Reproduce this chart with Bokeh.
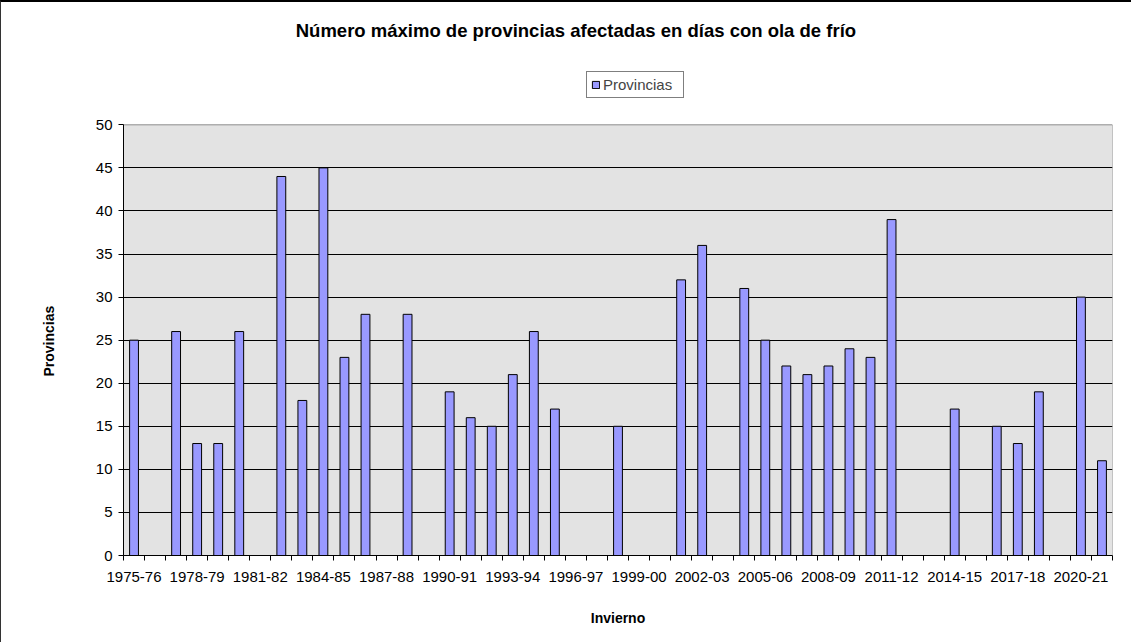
from bokeh.plotting import figure
from bokeh.models import (ColumnDataSource, FixedTicker, Legend, LegendItem,
                          Range1d, Label, Title)
from bokeh.embed import file_html
from bokeh.resources import INLINE

# ---------------- data ----------------
seasons = [
    "1975-76", "1976-77", "1977-78", "1978-79", "1979-80", "1980-81",
    "1981-82", "1982-83", "1983-84", "1984-85", "1985-86", "1986-87",
    "1987-88", "1988-89", "1989-90", "1990-91", "1991-92", "1992-93",
    "1993-94", "1994-95", "1995-96", "1996-97", "1997-98", "1998-99",
    "1999-00", "2000-01", "2001-02", "2002-03", "2003-04", "2004-05",
    "2005-06", "2006-07", "2007-08", "2008-09", "2009-10", "2010-11",
    "2011-12", "2012-13", "2013-14", "2014-15", "2015-16", "2016-17",
    "2017-18", "2018-19", "2019-20", "2020-21", "2021-22",
]
provincias = [
    25, None, 26, 13, 13, 26,
    None, 44, 18, 45, 23, 28,
    None, 28, None, 19, 16, 15,
    21, 26, 17, None, None, 15,
    None, None, 32, 36, None, 31,
    25, 22, 21, 22, 24, 23,
    39, None, None, 17, None, 15,
    13, 19, None, 30, 11,
]
labelled_seasons = seasons[::3]
y_ticks = [0, 5, 10, 15, 20, 25, 30, 35, 40, 45, 50]

title_text = "Número máximo de provincias afectadas en días con ola de frío"
series_name = "Provincias"
x_title = "Invierno"
y_title = "Provincias"

# ---------------- figure ----------------
FONT = "Liberation Sans"
W, H = 1131, 642
Y_MAX = 50
Y_VIEW = 64.2          # frame extends above the plot area to hold title/legend
PX_PER_UNIT = 553 / Y_VIEW
x_rng = Range1d(-0.5, len(seasons) - 0.5)
p = figure(width=W, height=H, output_backend="svg", toolbar_location=None,
           x_range=x_rng, y_range=Range1d(0, Y_VIEW),
           min_border_left=122, min_border_right=20, min_border_top=0,
           min_border_bottom=89)
p.styles = {"border-top": "2px solid black", "border-left": "1px solid #333333"}

p.background_fill_color = "white"
p.border_fill_color = "white"
p.outline_line_color = None

# grey plot area
p.quad(left=x_rng.start, right=x_rng.end, bottom=0, top=Y_MAX,
       fill_color="#E3E3E3", line_color="#8C8C8C", line_width=1, level="image")

xs = [i for i, v in enumerate(provincias) if v is not None]
tops = [v for v in provincias if v is not None]
src = ColumnDataSource(dict(x=xs, top=tops))
r = p.vbar(x="x", top="top", bottom=0, width=0.42, source=src,
           fill_color="#9999FF", line_color="black", line_width=1)

# grid
p.xgrid.grid_line_color = None
p.ygrid.ticker = FixedTicker(ticks=y_ticks[1:-1])
p.ygrid.grid_line_color = "black"
p.ygrid.grid_line_width = 1

# x axis
xa = p.xaxis[0]
xa.ticker = FixedTicker(ticks=list(range(0, len(seasons), 3)),
                        minor_ticks=[i - 0.5 for i in range(len(seasons) + 1)])
xa.major_label_overrides = {i * 3: s for i, s in enumerate(labelled_seasons)}
xa.major_tick_out = 0
xa.major_tick_in = 0
xa.minor_tick_out = 5
xa.minor_tick_in = 0
xa.minor_tick_line_color = "black"
xa.axis_line_color = "black"
xa.major_label_text_font = FONT
xa.major_label_text_font_size = "15px"
xa.major_label_text_color = "black"
xa.major_label_standoff = 11
xa.axis_label = x_title
xa.axis_label_text_font = FONT
xa.axis_label_text_font_style = "bold"
xa.axis_label_text_font_size = "14px"
xa.axis_label_text_color = "black"
xa.axis_label_standoff = 25

# y axis
ya = p.yaxis[0]
ya.ticker = FixedTicker(ticks=y_ticks)
ya.bounds = (0, Y_MAX)
ya.major_tick_out = 5
ya.major_tick_in = 0
ya.minor_tick_line_color = None
ya.axis_line_color = "black"
ya.major_tick_line_color = "black"
ya.major_label_text_font = FONT
ya.major_label_text_font_size = "15px"
ya.major_label_text_color = "black"
ya.major_label_standoff = 6

# y axis title, centred on the grey plot area
p.add_layout(Title(text=y_title, align="left", offset=179, standoff=72,
                   text_font=FONT, text_font_style="bold",
                   text_font_size="14px", text_color="black"), "left")

# legend (inside the extended frame, above the grey area)
legend = Legend(items=[LegendItem(label=series_name, renderers=[r])],
                location=(463, 457), orientation="vertical")
legend.label_text_font = FONT
legend.label_text_font_size = "15px"
legend.label_standoff = 3
legend.label_width = 76
legend.glyph_width = 9
legend.glyph_height = 9
legend.label_height = 13
legend.padding = 4
legend.margin = 0
legend.spacing = 0
legend.border_line_color = "black"
legend.border_line_width = 1
legend.background_fill_color = "white"
legend.background_fill_alpha = 1
p.add_layout(legend, "center")

# title
p.add_layout(Label(x=21.0, y=Y_VIEW - 28 / PX_PER_UNIT, text=title_text,
                   text_font=FONT, text_font_style="bold",
                   text_font_size="18.5px", text_align="center",
                   text_baseline="alphabetic", text_color="black"))

open("out.html", "w").write(file_html(p, INLINE))
